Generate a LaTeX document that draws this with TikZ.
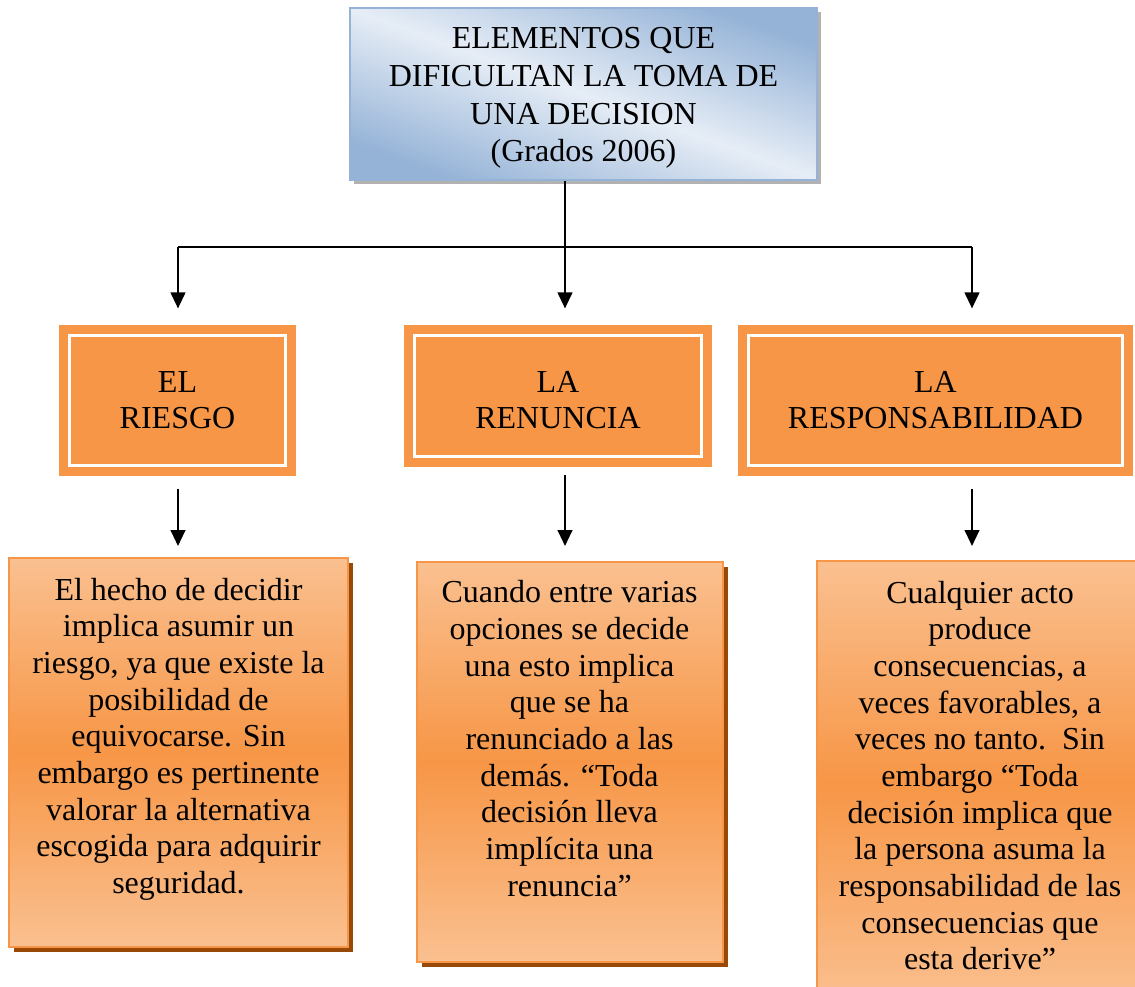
\documentclass[tikz,border=0pt]{standalone}
\usepackage{fontspec}
\setmainfont{Liberation Serif}
\usepackage{tikz}
\usetikzlibrary{arrows.meta,shadows}

\definecolor{tituloazul}{HTML}{95B3D7}
\definecolor{tituloclaro}{HTML}{E6EDF6}
\definecolor{naranja}{HTML}{F79646}
\definecolor{durazno}{HTML}{FAC090}
\definecolor{sombra}{HTML}{984807}

\begin{document}
\begin{tikzpicture}[%
            x=0.75pt, y=-0.75pt,
            titulo/.style={
                draw=tituloazul, line width=1.5pt,
                top color=tituloazul, bottom color=tituloazul,
                middle color=tituloclaro, shading angle=-20,
                drop shadow={shadow xshift=3pt, shadow yshift=-3pt,
                    fill=gray!60, opacity=1},
                align=center, font=\fontsize{24}{28.3}\selectfont,
                minimum width=350.25pt, minimum height=129pt,
            },
            tema/.style={
                fill=naranja, draw=white, line width=2.6pt,
                preaction={draw=naranja, line width=15.75pt},
                align=center, font=\fontsize{24}{27}\selectfont,
            },
            caja/.style={
                draw=naranja, line width=1.5pt,
                top color=durazno, bottom color=durazno, middle color=naranja,
                drop shadow={shadow xshift=3.75pt, shadow yshift=-3.75pt,
                    fill=sombra, opacity=1},
            },
            texto/.style={
                align=center, inner sep=0pt, anchor=north,
                font=\fontsize{24}{27.5}\selectfont,
            },
            linea/.style={line width=1.6pt},
            flecha/.style={line width=1.6pt, -{Triangle[width=11pt,length=12pt]}},
        ]
        \useasboundingbox (0,0) rectangle (1135,987);
        \clip (0,0) rectangle (1135,987);

        % titulo
        \node[titulo] (titulo) at (583.5,94)
            {\rule{0pt}{22pt}ELEMENTOS QUE\\DIFICULTAN LA TOMA DE\\UNA DECISION\\ (Grados 2006)};

        % elementos
        \node[tema, minimum width=162pt, minimum height=97.5pt] (riesgo) at (177.5,400.5)
            {EL\\RIESGO};
        \node[tema, minimum width=215.25pt, minimum height=90.75pt] (renuncia) at (558,396)
            {\rule{0pt}{22pt}LA\\RENUNCIA};
        \node[tema, minimum width=280.5pt, minimum height=97.5pt] (responsabilidad) at (935.5,400.5)
            {LA\\RESPONSABILIDAD};

        % descripciones
        \node[caja, minimum width=254.25pt, minimum height=291.75pt] (d1) at (178.5,752.5) {};
        \node[caja, minimum width=229.5pt, minimum height=300pt] (d2) at (569.5,762) {};
        \node[caja, minimum width=244.5pt, minimum height=333pt] (d3) at (980,783) {};

        \node[texto] (t1) at ([yshift=-15.5pt]d1.north)
            {El hecho de decidir\\implica asumir un\\riesgo, ya que existe la\\posibilidad de\\equivocarse. Sin\\embargo es pertinente\\valorar la alternativa\\escogida para adquirir\\seguridad.};
        \node[texto] (t2) at ([yshift=-14.5pt]d2.north)
            {Cuando entre varias\\opciones se decide\\una esto implica\\que se ha\\renunciado a las\\demás. “Toda\\decisión lleva\\implícita una\\renuncia”};
        \node[texto] (t3) at ([yshift=-15.5pt]d3.north)
            {Cualquier acto\\produce\\consecuencias, a\\veces favorables, a\\veces no tanto.\ \ Sin\\embargo “Toda\\decisión implica que\\la persona asuma la\\responsabilidad de las\\consecuencias que\\esta derive”};

        % conectores
        \coordinate (bus) at (565,247);
        \coordinate (busizq) at (178,247);
        \coordinate (busder) at (972,247);
        \draw[linea] (titulo.south -| bus) -- (bus);
        \draw[linea] (busizq) -- (busder);
        \draw[flecha, shorten >=19pt] (busizq) -- (busizq |- riesgo.north);
        \draw[flecha, shorten >=19pt] (bus) -- (bus |- renuncia.north);
        \draw[flecha, shorten >=19pt] (busder) -- (busder |- responsabilidad.north);

        \draw[flecha, shorten <=16pt, shorten >=8.25pt] (busizq |- riesgo.south) -- (busizq |- d1.north);
        \draw[flecha, shorten <=12.5pt, shorten >=11.25pt] (bus |- renuncia.south) -- (bus |- d2.north);
        \draw[flecha, shorten <=16pt, shorten >=10.5pt] (busder |- responsabilidad.south) -- (busder |- d3.north);
    \end{tikzpicture}
\end{document}
